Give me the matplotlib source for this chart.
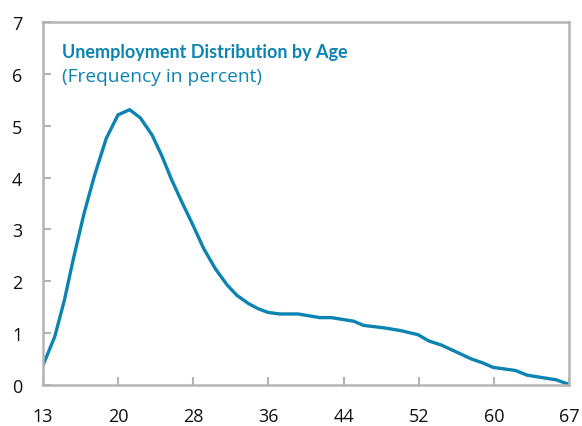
"""Unemployment distribution by age, single line panel."""

import matplotlib
matplotlib.use("Agg")
import matplotlib.pyplot as plt

# values
ages = [13.0, 14.2, 15.2, 16.1, 17.2, 18.3, 19.5, 20.7, 21.9, 23.0,
        24.2, 25.2, 26.2, 27.2, 28.3, 29.5, 30.7, 31.9, 32.9, 34.1,
        35.1, 36.1, 37.3, 39.2, 41.4, 42.6, 44.9, 45.9, 48.1, 49.7,
        51.5, 52.6, 53.9, 55.4, 57.0, 58.1, 59.2, 61.5, 62.7, 64.0,
        65.7, 67.0]
freq = [0.38, 0.93, 1.64, 2.42, 3.30, 4.05, 4.76, 5.21, 5.31, 5.15,
        4.82, 4.42, 3.96, 3.55, 3.12, 2.63, 2.24, 1.93, 1.73, 1.57,
        1.47, 1.40, 1.37, 1.37, 1.30, 1.30, 1.23, 1.15, 1.10, 1.05,
        0.97, 0.85, 0.77, 0.64, 0.50, 0.43, 0.34, 0.28, 0.19, 0.15,
        0.10, 0.01]
xtick_labels = ["13", "20", "28", "36", "44", "52", "60", "67"]
yticks = [0, 1, 2, 3, 4, 5, 6, 7]

blue = "#0c84b2"
grey = "#b4b4b4"

plt.rcParams["font.family"] = ["Open Sans", "DejaVu Sans"]

fig = plt.figure(figsize=(5.82, 4.27), dpi=100)
ax = fig.add_axes([0.0739, 0.096, 0.9038, 0.85])
ax.plot(ages, freq, color=blue, lw=2.4, solid_joinstyle="miter")

ax.set_xlim(13, 67)
ax.set_ylim(0, 7)
step = (67 - 13) / (len(xtick_labels) - 1)
ax.set_xticks([13 + i * step for i in range(len(xtick_labels))])
ax.set_xticklabels(xtick_labels)
ax.set_yticks(yticks)
ax.tick_params(axis="both", direction="in", length=6, width=1.5, color=grey,
               labelsize=13, labelcolor="#111111")
ax.tick_params(axis="x", pad=16)
ax.tick_params(axis="y", pad=15)
for side in ax.spines.values():
    side.set_color(grey)
    side.set_linewidth(1.8)

ax.text(0.036, 0.943, "Unemployment Distribution by Age", transform=ax.transAxes,
        color=blue, fontsize=13, fontweight="bold", ha="left", va="top",
        family=["Lato", "DejaVu Sans"])
ax.text(0.036, 0.875, "(Frequency in percent)", transform=ax.transAxes,
        color=blue, fontsize=13.8, ha="left", va="top")

fig.savefig("out.png", dpi=100)
plt.close(fig)
